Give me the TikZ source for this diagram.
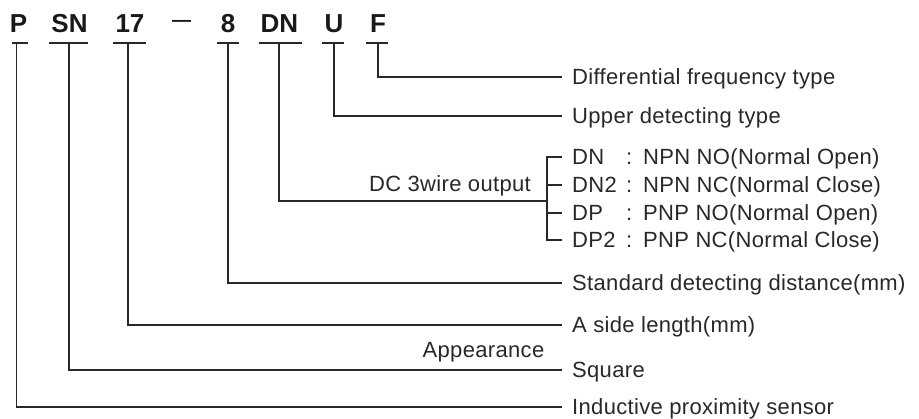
\documentclass[tikz,border=0pt]{standalone}
\usepackage{fontspec}
\setmainfont{Liberation Sans}
\newfontfamily\lblfont[LetterSpace=1.5]{Liberation Sans}
\definecolor{ink}{RGB}{40,40,40}
\definecolor{hd}{RGB}{25,25,25}
\begin{document}
\begin{tikzpicture}[x=1pt,y=-1pt,
  ln/.style={draw=ink,line width=1.2pt},
  hdr/.style={anchor=base,inner sep=0pt,text=hd,font=\fontsize{26}{28}\selectfont\bfseries},
  lbl/.style={anchor=base west,inner sep=0pt,text=ink,font=\lblfont\fontsize{22}{24}\selectfont},
  lble/.style={lbl,anchor=base east}]
\useasboundingbox (0,0) rectangle (919,419);
% header letters
\node[hdr] (hP)  at (18.5,33) {P};
\node[hdr] (hSN) at (69.5,33) {SN};
\node[hdr] (h17) at (130,33) {17};
\node[hdr,font=\fontsize{19}{20}\selectfont\bfseries,anchor=center] (hdash) at (181.5,23) {—};
\node[hdr] (h8)  at (228,33) {8};
\node[hdr] (hDN) at (279.5,33) {DN};
\node[hdr] (hU)  at (334,33) {U};
\node[hdr] (hF)  at (378,33) {F};
% underlines
\draw[ln] (12,43) -- (28,43);
\draw[ln] (49,43) -- (88,43);
\draw[ln] (113,43) -- (146,43);
\draw[ln] (217,43) -- (239,43);
\draw[ln] (259,43) -- (302,43);
\draw[ln] (322,43) -- (344,43);
\draw[ln] (366,43) -- (388,43);
% start points
\coordinate (uP) at (16.7,43);
\coordinate (uSN) at (69,43);
\coordinate (u17) at (128,43);
\coordinate (u8) at (228,43);
\coordinate (uDN) at (279,43);
\coordinate (uU) at (334,43);
\coordinate (uF) at (378,43);
% end points
\coordinate (eF) at (562,77);
\coordinate (eU) at (562,116);
\coordinate (eDN) at (547,201);
\coordinate (e8) at (562,283);
\coordinate (e17) at (562,325);
\coordinate (eSN) at (562,370);
\coordinate (eP) at (562,407);
% labels
\node[lbl] (lF) at (572,85) {Differential frequency type};
\node[lbl] (lU) at (572,124) {Upper detecting type};
\node[lbl] (l8) at (572,291) {Standard detecting distance(mm)};
\node[lbl] (l17) at (572,333) {A side length(mm)};
\node[lbl,anchor=base] (lApp) at (483.5,358) {Appearance};
\node[lbl] (lSN) at (572,378) {Square};
\node[lbl] (lP) at (572,415) {Inductive proximity sensor};
\node[lble] (lDC) at (531,192) {DC 3wire output};
% output rows
\foreach \y/\c/\n/\d in {157/a/DN/NPN NO(Normal Open),185/b/DN2/NPN NC(Normal Close),213/c/DP/PNP NO(Normal Open),240/d/DP2/PNP NC(Normal Close)}{
  \coordinate (t\c) at (562,\y);
  \node[lbl] (o\c) at (572,\y+8) {\n};
  \node[lbl] (k\c) at (626,\y+8) {:};
  \node[lbl] (d\c) at (643,\y+8) {\d};
}
% connectors
\draw[ln] (uF) |- (eF);
\draw[ln] (uU) |- (eU);
\draw[ln] (uDN) |- (eDN);
\draw[ln] (u8) |- (e8);
\draw[ln] (u17) |- (e17);
\draw[ln] (uSN) |- (eSN);
\draw[ln] (uP) |- (eP);
% bracket
\draw[ln] (ta) -| (eDN |- td) -- (td);
\draw[ln] (eDN |- tb) -- (tb);
\draw[ln] (eDN |- tc) -- (tc);
\end{tikzpicture}
\end{document}
